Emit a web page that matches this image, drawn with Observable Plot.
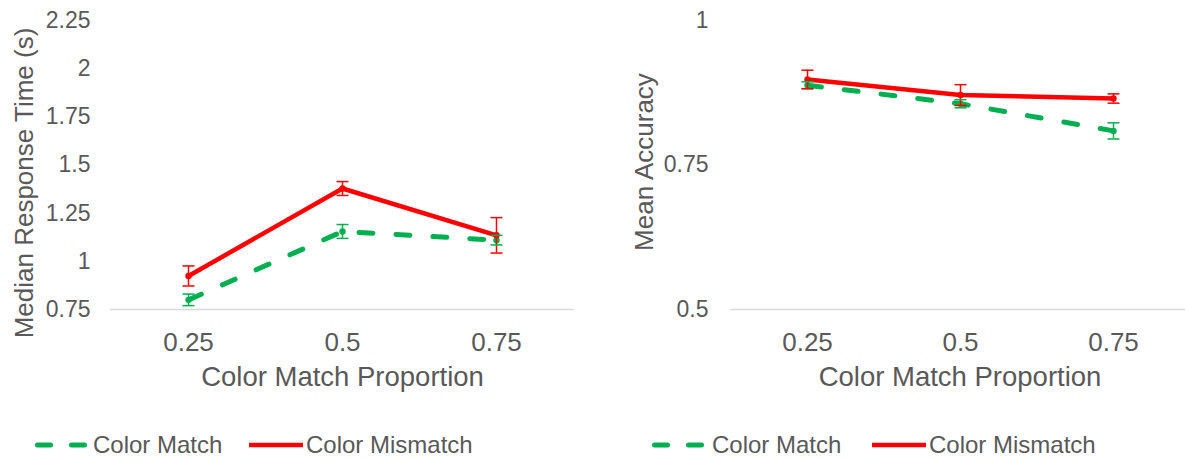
<!DOCTYPE html>
<html><head><meta charset="utf-8">
<script src="https://cdn.jsdelivr.net/npm/d3@7"></script>
<script src="https://cdn.jsdelivr.net/npm/@observablehq/plot@0.6"></script>
<style>
html,body{margin:0;padding:0;background:#fff;overflow:hidden;}
#wrap{position:relative;width:1185px;height:459px;overflow:hidden;font-family:"Liberation Sans",Arial,sans-serif;color:#595959;}
.panel{position:absolute;top:0;}
.lg{position:absolute;top:430px;height:30px;line-height:30px;font-size:24px;white-space:nowrap;}
.lg svg{display:block;}
</style></head><body><div id="wrap"></div>
<script>
const proportions = [0.25, 0.5, 0.75];
const seriesNames = ["Color Match", "Color Mismatch"];
const seriesColors = ["#00B050", "#FF0000"];
const xTitle = "Color Match Proportion";

const rtTitle = "Median Response Time (s)";
const rtTicks = [0.75, 1, 1.25, 1.5, 1.75, 2, 2.25];
const rtMatch = [0.80, 1.155, 1.11];
const rtMatchErr = [0.03, 0.036, 0.025];
const rtMismatch = [0.924, 1.378, 1.135];
const rtMismatchErr = [0.052, 0.036, 0.092];

const accTitle = "Mean Accuracy";
const accTicks = [0.5, 0.75, 1];
const accMatch = [0.888, 0.856, 0.809];
const accMatchErr = [0.006, 0.007, 0.014];
const accMismatch = [0.898, 0.871, 0.865];
const accMismatchErr = [0.016, 0.018, 0.008];

const FONT = "Liberation Sans, Arial, sans-serif";
const GREY = "#595959";

function rows(values, errs, series) {
  return proportions.map((p, i) => ({p, v: values[i], lo: values[i] - errs[i], hi: values[i] + errs[i], series}));
}
const capSymbol = {draw(ctx, size) { const w = Math.sqrt(size / Math.PI); ctx.moveTo(-w, 0); ctx.lineTo(w, 0); }};

function panel({width, marginLeft, marginRight, ticks, yTitle, match, matchErr, mismatch, mismatchErr, tickPadding, titleDy}) {
  const dm = rows(match, matchErr, seriesNames[0]);
  const dx = rows(mismatch, mismatchErr, seriesNames[1]);
  const all = dm.concat(dx);
  const domain = [ticks[0], ticks[ticks.length - 1]];
  return Plot.plot({
    width, height: 400, marginLeft, marginRight, marginTop: 20, marginBottom: 91,
    style: {fontFamily: FONT, fontSize: "24px", color: GREY, background: "transparent", overflow: "visible"},
    x: {type: "point", domain: proportions, padding: 0.5},
    y: {domain},
    color: {domain: seriesNames, range: seriesColors},
    marks: [
      Plot.ruleY([domain[0]], {stroke: "#D9D9D9", strokeWidth: 1.5}),
      Plot.axisY(ticks, {tickSize: 0, tickPadding, label: null, tickFormat: d => String(d), fill: GREY, fontSize: 23}),
      Plot.axisX(proportions, {tickSize: 0, tickPadding: 23, label: null, tickFormat: d => String(d), fill: GREY, fontSize: 26}),
      Plot.text([yTitle], {frameAnchor: "left", rotate: -90, dx: -86, dy: titleDy, textAnchor: "middle", lineAnchor: "middle", fill: GREY, fontSize: 26}),
      Plot.text([xTitle], {frameAnchor: "bottom", dy: 68, textAnchor: "middle", lineAnchor: "middle", fill: GREY, fontSize: 27.5}),
      Plot.line(dm, {x: "p", y: "v", stroke: "series", strokeWidth: 5, strokeDasharray: "14,23", strokeLinecap: "round"}),
      Plot.line(dx, {x: "p", y: "v", stroke: "series", strokeWidth: 4.5}),
      Plot.dot(all, {x: "p", y: "v", r: 3.2, fill: "series"}),
      Plot.ruleX(all, {x: "p", y1: "lo", y2: "hi", stroke: "series", strokeWidth: 1.5}),
      Plot.dot(all, {x: "p", y: "hi", symbol: capSymbol, r: 6, fill: "none", stroke: "series", strokeWidth: 1.5}),
      Plot.dot(all, {x: "p", y: "lo", symbol: capSymbol, r: 6, fill: "none", stroke: "series", strokeWidth: 1.5})
    ]
  });
}

const wrap = document.getElementById("wrap");
function place(node, left, width) {
  const d = document.createElement("div");
  d.className = "panel"; d.style.left = left + "px"; d.style.width = width + "px";
  d.appendChild(node); wrap.appendChild(d);
}
place(panel({width: 592, marginLeft: 110, marginRight: 18, ticks: rtTicks, yTitle: rtTitle,
  match: rtMatch, matchErr: rtMatchErr, mismatch: rtMismatch, mismatchErr: rtMismatchErr, tickPadding: 20, titleDy: 18}), 0, 592);
place(panel({width: 597, marginLeft: 138, marginRight: 0, ticks: accTicks, yTitle: accTitle,
  match: accMatch, matchErr: accMatchErr, mismatch: accMismatch, mismatchErr: accMismatchErr, tickPadding: 22, titleDy: -3}), 592, 597);

function legendItem(x, dashed, color, textX, label) {
  const s = document.createElement("div");
  s.className = "lg"; s.style.left = x + "px"; s.style.top = "431px";
  const ns = "http://www.w3.org/2000/svg";
  const svg = document.createElementNS(ns, "svg");
  svg.setAttribute("width", 56); svg.setAttribute("height", 30);
  const ln = document.createElementNS(ns, "line");
  ln.setAttribute("y1", 14); ln.setAttribute("y2", 14);
  ln.setAttribute("stroke", color);
  if (dashed) {
    ln.setAttribute("x1", 2.5); ln.setAttribute("x2", 51.5);
    ln.setAttribute("stroke-width", 5); ln.setAttribute("stroke-linecap", "round");
    ln.setAttribute("stroke-dasharray", "13,21");
  } else {
    ln.setAttribute("x1", 0); ln.setAttribute("x2", 54); ln.setAttribute("stroke-width", 4.5);
  }
  svg.appendChild(ln); s.appendChild(svg); wrap.appendChild(s);
  const t = document.createElement("div");
  t.className = "lg"; t.style.left = textX + "px"; t.textContent = label;
  wrap.appendChild(t);
}
legendItem(35, true, seriesColors[0], 93, seriesNames[0]);
legendItem(249, false, seriesColors[1], 306, seriesNames[1]);
legendItem(652, true, seriesColors[0], 712, seriesNames[0]);
legendItem(872, false, seriesColors[1], 929, seriesNames[1]);
</script></body></html>
